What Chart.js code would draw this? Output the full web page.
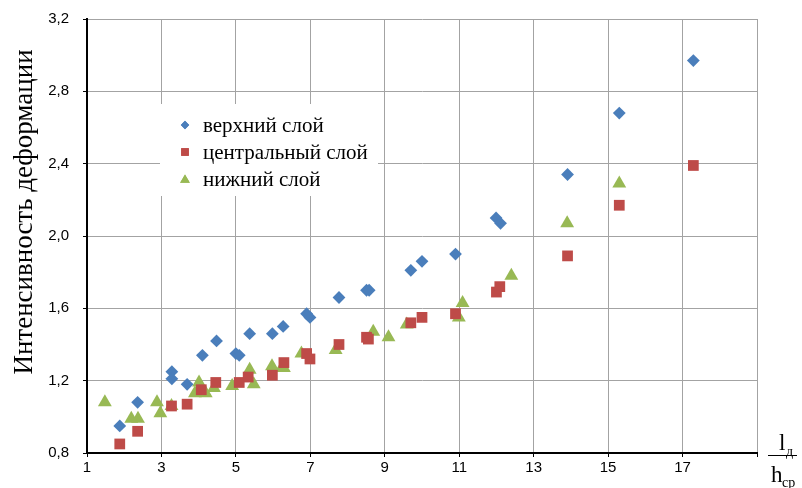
<!DOCTYPE html>
<html lang="ru">
<head>
  <meta charset="UTF-8" />
  <title>Интенсивность деформации</title>
  <script src="https://cdn.jsdelivr.net/npm/chart.js@4.4.1/dist/chart.umd.min.js"></script>
  <style>
    html, body { margin: 0; padding: 0; background: #fff; }
    #wrap { width: 802px; height: 488px; position: relative; }
  </style>
</head>
<body>
  <div id="wrap"><canvas id="chart" width="802" height="488"></canvas></div>

  <script>
    // верхний слой
    const topX = [1.88, 2.36, 3.28, 3.28, 3.69, 4.10, 4.48, 5.00, 5.09, 5.37, 5.98, 6.27, 6.90, 6.99, 7.77, 8.51, 8.58, 9.70, 10.0, 10.9, 11.99, 12.11, 13.91, 15.3, 17.29];
    const topY = [0.95, 1.08, 1.25, 1.21, 1.18, 1.34, 1.42, 1.35, 1.34, 1.46, 1.46, 1.50, 1.57, 1.55, 1.66, 1.70, 1.70, 1.81, 1.86, 1.90, 2.10, 2.07, 2.34, 2.68, 2.97];

    // центральный слой
    const midX = [1.88, 2.36, 3.27, 3.69, 4.07, 4.46, 5.09, 5.33, 5.98, 6.29, 6.90, 6.99, 7.77, 8.51, 8.56, 9.70, 10.0, 10.9, 12.0, 12.09, 13.91, 15.3, 17.29];
    const midY = [0.85, 0.92, 1.06, 1.07, 1.15, 1.19, 1.19, 1.22, 1.23, 1.30, 1.35, 1.32, 1.40, 1.44, 1.43, 1.52, 1.55, 1.57, 1.69, 1.72, 1.89, 2.17, 2.39];

    // нижний слой
    const lowX = [1.48, 2.19, 2.37, 2.88, 2.97, 3.27, 3.90, 4.01, 4.07, 4.19, 4.41, 4.90, 5.37, 5.48, 5.97, 6.23, 6.29, 6.76, 7.68, 8.69, 9.10, 9.59, 10.99, 11.09, 12.40, 13.90, 15.30];
    const lowY = [1.08, 0.99, 0.99, 1.08, 1.02, 1.06, 1.13, 1.19, 1.16, 1.13, 1.16, 1.17, 1.26, 1.18, 1.28, 1.27, 1.27, 1.35, 1.37, 1.47, 1.44, 1.51, 1.55, 1.63, 1.78, 2.07, 2.29];

    const seriesNames = ['верхний слой', 'центральный слой', 'нижний слой'];
    const seriesColors = ['#4a7ebb', '#be4b48', '#98b954'];
    const seriesShapes = ['rectRot', 'rect', 'triangle'];
    const seriesRadius = [6.4, 7.6, 8];

    const xMin = 1, xMax = 19, xStep = 2;
    const yMin = 0.8, yMax = 3.2, yStep = 0.4;

    const SERIF = '"Liberation Serif", "Times New Roman", serif';
    const SANS = '"Liberation Sans", Arial, sans-serif';

    function toPoints(xs, ys) {
      return xs.map((x, i) => ({ x: x, y: ys[i] }));
    }

    const extras = {
      id: 'extras',
      afterDraw(chart) {
        const ctx = chart.ctx;
        ctx.save();

        // legend box
        ctx.fillStyle = '#fff';
        ctx.fillRect(160, 104, 218, 92);
        ctx.font = '21px ' + SERIF;
        ctx.textBaseline = 'middle';
        ctx.textAlign = 'left';
        const rows = [125, 152, 179];
        const legR = [4.2, 5.4, 5.6];
        seriesNames.forEach((name, i) => {
          ctx.fillStyle = seriesColors[i];
          ctx.strokeStyle = seriesColors[i];
          Chart.helpers.drawPoint(ctx, { pointStyle: seriesShapes[i], radius: legR[i], borderWidth: 0 }, 185, rows[i] + (i === 2 ? 1 : 0));
          ctx.fill();
          ctx.fillStyle = '#000';
          ctx.fillText(name, 203, rows[i] + 1);
        });

        // y title
        ctx.save();
        ctx.translate(25, 212);
        ctx.rotate(-Math.PI / 2);
        ctx.font = '27px ' + SERIF;
        ctx.textAlign = 'center';
        ctx.textBaseline = 'middle';
        ctx.fillStyle = '#000';
        ctx.fillText('Интенсивность деформации', 0, 0);
        ctx.restore();

        // x title as fraction l_д / h_ср
        ctx.fillStyle = '#000';
        ctx.textBaseline = 'alphabetic';
        ctx.textAlign = 'left';
        ctx.font = '23px ' + SERIF;
        ctx.fillText('l', 779, 450);
        ctx.fillText('h', 771, 482);
        ctx.font = '14px ' + SERIF;
        ctx.fillText('д', 786, 456);
        ctx.fillText('ср', 782, 487);
        ctx.strokeStyle = '#000';
        ctx.lineWidth = 1;
        ctx.beginPath();
        ctx.moveTo(768, 455.5);
        ctx.lineTo(797, 455.5);
        ctx.stroke();

        ctx.restore();
      }
    };

    const ctx = document.getElementById('chart').getContext('2d');
    new Chart(ctx, {
      type: 'scatter',
      data: {
        datasets: [
          { label: seriesNames[0], data: toPoints(topX, topY) },
          { label: seriesNames[1], data: toPoints(midX, midY) },
          { label: seriesNames[2], data: toPoints(lowX, lowY) }
        ].map((d, i) => Object.assign(d, {
          pointStyle: seriesShapes[i],
          pointRadius: seriesRadius[i],
          pointHoverRadius: seriesRadius[i],
          backgroundColor: seriesColors[i],
          borderColor: seriesColors[i],
          borderWidth: 0
        }))
      },
      options: {
        responsive: false,
        animation: false,
        events: [],
        layout: { padding: { top: 19, right: 45, left: 0, bottom: 0 } },
        plugins: { legend: { display: false }, tooltip: { enabled: false } },
        scales: {
          x: {
            type: 'linear',
            min: xMin, max: xMax,
            afterFit: s => { s.height = 35; s.paddingLeft = 0; s.paddingRight = 0; },
            ticks: {
              stepSize: xStep,
              color: '#000',
              font: { family: SANS, size: 15 },
              padding: 2,
              maxRotation: 0,
              callback: v => (v === xMax ? '' : String(v))
            },
            grid: { color: '#a3a3a3', lineWidth: 1, tickLength: 4, tickColor: '#000' },
            border: { color: '#000', width: 2 }
          },
          y: {
            min: yMin, max: yMax,
            afterFit: s => { s.width = 87; s.paddingTop = 0; s.paddingBottom = 0; },
            ticks: {
              stepSize: yStep,
              color: '#000',
              font: { family: SANS, size: 15 },
              padding: 14,
              callback: v => v.toFixed(1).replace('.', ',')
            },
            grid: { color: '#a3a3a3', lineWidth: 1, tickLength: 4, tickColor: '#000' },
            border: { color: '#000', width: 2 }
          }
        }
      },
      plugins: [extras]
    });
  </script>
</body>
</html>
